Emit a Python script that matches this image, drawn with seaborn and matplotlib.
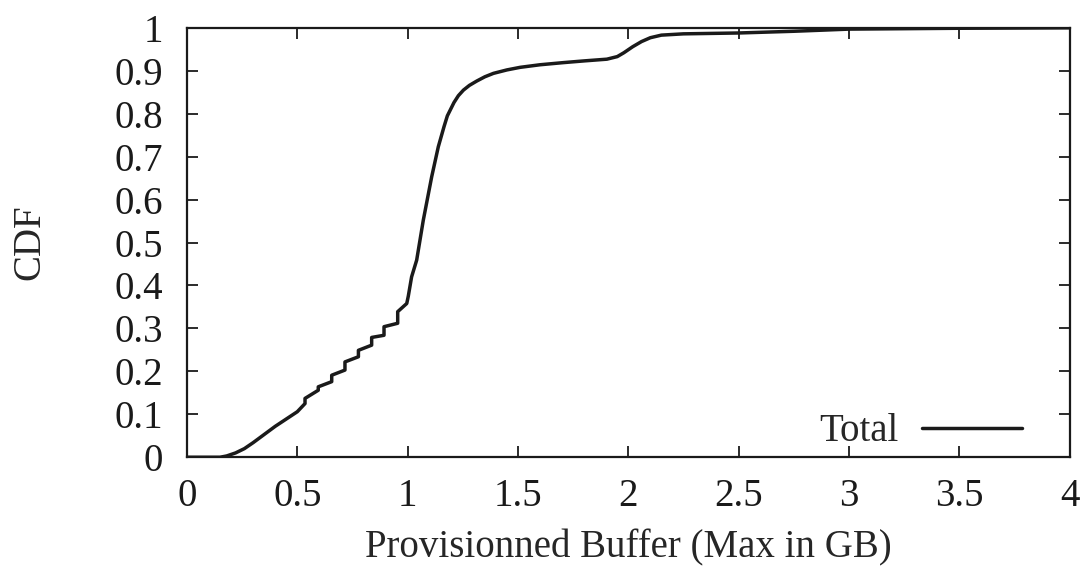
import numpy as np
import pandas as pd
import seaborn as sns
import matplotlib.pyplot as plt

# CDF of provisioned buffer
buffer_gb = [0.00, 0.15, 0.18, 0.22, 0.26, 0.30, 0.40, 0.50, 0.535, 0.535, 0.595, 0.595,
             0.656, 0.656, 0.716, 0.716, 0.777, 0.777, 0.837, 0.837, 0.893, 0.893,
             0.955, 0.955, 0.996, 1.003, 1.018, 1.041, 1.071, 1.109, 1.139, 1.165,
             1.18, 1.21, 1.23, 1.253, 1.28, 1.313, 1.35, 1.389, 1.45, 1.51, 1.6,
             1.706, 1.8, 1.903, 1.95, 1.98, 2.02, 2.06, 2.10, 2.15, 2.25, 2.5,
             2.75, 3.0, 3.5, 4.0]
cdf = [0.000, 0.000, 0.003, 0.010, 0.020, 0.034, 0.072, 0.106, 0.125, 0.137, 0.156, 0.164,
       0.176, 0.191, 0.203, 0.222, 0.234, 0.249, 0.261, 0.279, 0.284, 0.304,
       0.312, 0.339, 0.358, 0.375, 0.420, 0.459, 0.552, 0.653, 0.723, 0.770,
       0.795, 0.826, 0.842, 0.855, 0.866, 0.876, 0.886, 0.894, 0.902, 0.908, 0.914,
       0.919, 0.923, 0.927, 0.933, 0.942, 0.956, 0.968, 0.977, 0.983, 0.986, 0.988,
       0.992, 0.997, 0.999, 1.000]

df = pd.DataFrame({"buffer": buffer_gb, "cdf": cdf})

sns.set_style("ticks")
plt.rcParams["font.family"] = ["Liberation Serif", "DejaVu Serif"]

fig = plt.figure(figsize=(10.87, 5.68), dpi=100)
ax = fig.add_axes([0.172, 0.195, 0.812, 0.756])

sns.lineplot(data=df, x="buffer", y="cdf", ax=ax, color="#1a1a1a",
             linewidth=2.5, label="Total", sort=False, estimator=None)

ax.set_xlim(0, 4)
ax.set_ylim(0, 1)
ax.set_xticks(np.arange(0, 4.01, 0.5))
ax.set_xticklabels(["0", "0.5", "1", "1.5", "2", "2.5", "3", "3.5", "4"])
ax.set_yticks(np.arange(0, 1.01, 0.1))
ax.set_yticklabels(["0"] + [f"{v/10:.1f}" for v in range(1, 10)] + ["1"])
ax.tick_params(direction="in", length=8, width=1.3, top=True, right=True,
               labelsize=28, colors="#1a1a1a")
ax.tick_params(axis="y", pad=17)
ax.tick_params(axis="x", pad=15)
for s in ax.spines.values():
    s.set_linewidth(1.6)
    s.set_color("#1a1a1a")

ax.set_xlabel("Provisionned Buffer (Max in GB)", fontsize=28, labelpad=10)
ax.set_ylabel("CDF", fontsize=28, labelpad=48)

leg = ax.legend(loc="lower right", bbox_to_anchor=(0.977, -0.047),
                frameon=False, fontsize=28, markerfirst=False,
                handlelength=2.57, handletextpad=0.62, borderaxespad=0.3)

fig.savefig("out.png", dpi=100)
